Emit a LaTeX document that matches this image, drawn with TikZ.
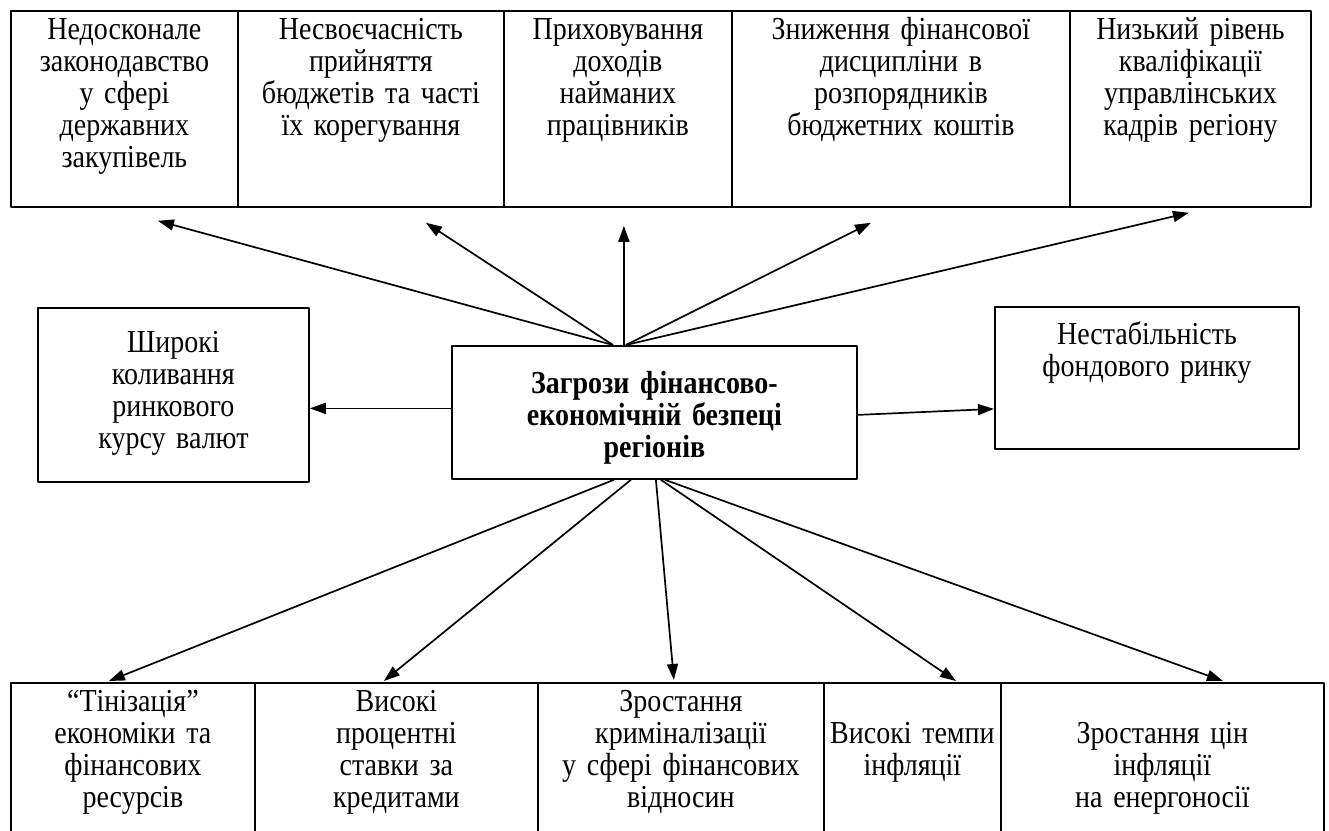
\documentclass[tikz,border=0pt]{standalone}
\usepackage{fontspec}
\setmainfont[FakeStretch=0.875]{Liberation Serif}
\usetikzlibrary{arrows.meta}
\tikzset{
  box/.style={draw,line width=1.8bp,inner sep=0pt,align=center,anchor=north west,
    font=\fontsize{32bp}{32bp}\selectfont},
  topbox/.style={box,text width=#1,text height=29bp,text depth=167bp},
  botbox/.style={box,text width=#1,text height=29bp,text depth=170bp},
  lowbox/.style={box,text width=#1,text height=61bp,text depth=138bp},
}
\begin{document}
\begin{tikzpicture}[>={Triangle[length=16bp,width=11bp]},line join=bevel,line width=1.7bp]
\useasboundingbox (0bp,0bp) rectangle (1329bp,831bp);
\clip (0bp,0bp) rectangle (1329bp,831bp);
%%
\node (top_1) at (10bp,821bp) [topbox=227bp] {Недосконале\\законодавство\\у сфері\\державних\\закупівель};
  \node (top_2) at (237bp,821bp) [topbox=266bp] {Несвоєчасність\\прийняття\\бюджетів та часті\\їх корегування};
  \node (top_3) at (503bp,821bp) [topbox=228bp] {Приховування\\доходів\\найманих\\працівників};
  \node (top_4) at (731bp,821bp) [topbox=338bp] {Зниження фінансової\\дисципліни в\\розпорядників\\бюджетних коштів};
  \node (top_5) at (1069bp,821bp) [topbox=241bp] {Низький рівень\\кваліфікації\\управлінських\\кадрів регіону};
  \node (core) at (451bp,486bp) [box,text width=405bp,text height=48bp,text depth=85bp,font=\fontsize{32bp}{32bp}\selectfont\bfseries] {Загрози фінансово-\\економічній безпеці\\регіонів};
  \node (side_l) at (37bp,524bp) [box,text width=271bp,text height=45bp,text depth=129bp] {Широкі\\коливання\\ринкового\\курсу валют};
  \node (side_r) at (994bp,525bp) [box,text width=304bp,text height=38bp,text depth=104bp] {Нестабільність\\фондового ринку};
  \node (bot_1) at (10bp,149bp) [botbox=244bp] {“Тінізація”\\економіки та\\фінансових\\ресурсів};
  \node (bot_2) at (254bp,149bp) [botbox=283bp] {Високі\\процентні\\ставки за\\кредитами};
  \node (bot_3) at (537bp,149bp) [botbox=286bp] {Зростання\\криміналізації\\у сфері фінансових\\відносин};
  \node (bot_4) at (823bp,149bp) [lowbox=177bp] {Високі темпи\\інфляції};
  \node (bot_5) at (1000bp,149bp) [lowbox=323bp] {Зростання цін\\інфляції\\на енергоносії};
  \draw [black,->] ([xshift=-41.5bp]core.north) -- ([xshift=33.5bp,yshift=-13bp]top_1.south);
  \draw [black,->] ([xshift=-41.5bp]core.north) -- ([xshift=55bp,yshift=-15bp]top_2.south);
  \draw [black,->] ([xshift=-30.5bp]core.north) -- ([xshift=6bp,yshift=-18bp]top_3.south);
  \draw [black,->] ([xshift=-28.5bp]core.north) -- ([xshift=-30bp,yshift=-15bp]top_4.south);
  \draw [black,->] ([xshift=-28.5bp]core.north) -- ([xshift=-1.5bp,yshift=-5bp]top_5.south);
  \draw [black,->] ([yshift=4bp]core.west) -- ([yshift=4bp]core.west -| side_l.east);
  \draw [black,->] ([yshift=-2.5bp]core.east) -- ([yshift=-31bp]side_r.west);
  \draw [black,->] ([xshift=-40.5bp]core.south) -- ([xshift=-24bp,yshift=1bp]bot_1.north);
  \draw [black,->] ([xshift=-23.5bp]core.south) -- ([xshift=-12.5bp,yshift=1bp]bot_2.north);
  \draw [black,->] ([xshift=1.5bp]core.south) -- ([xshift=-7bp,yshift=2bp]bot_3.north);
  \draw [black,->] ([xshift=6.5bp]core.south) -- ([xshift=43.5bp,yshift=1bp]bot_4.north);
  \draw [black,->] ([xshift=10.5bp]core.south) -- ([xshift=60.5bp,yshift=1bp]bot_5.north);
%
\end{tikzpicture}
\end{document}
